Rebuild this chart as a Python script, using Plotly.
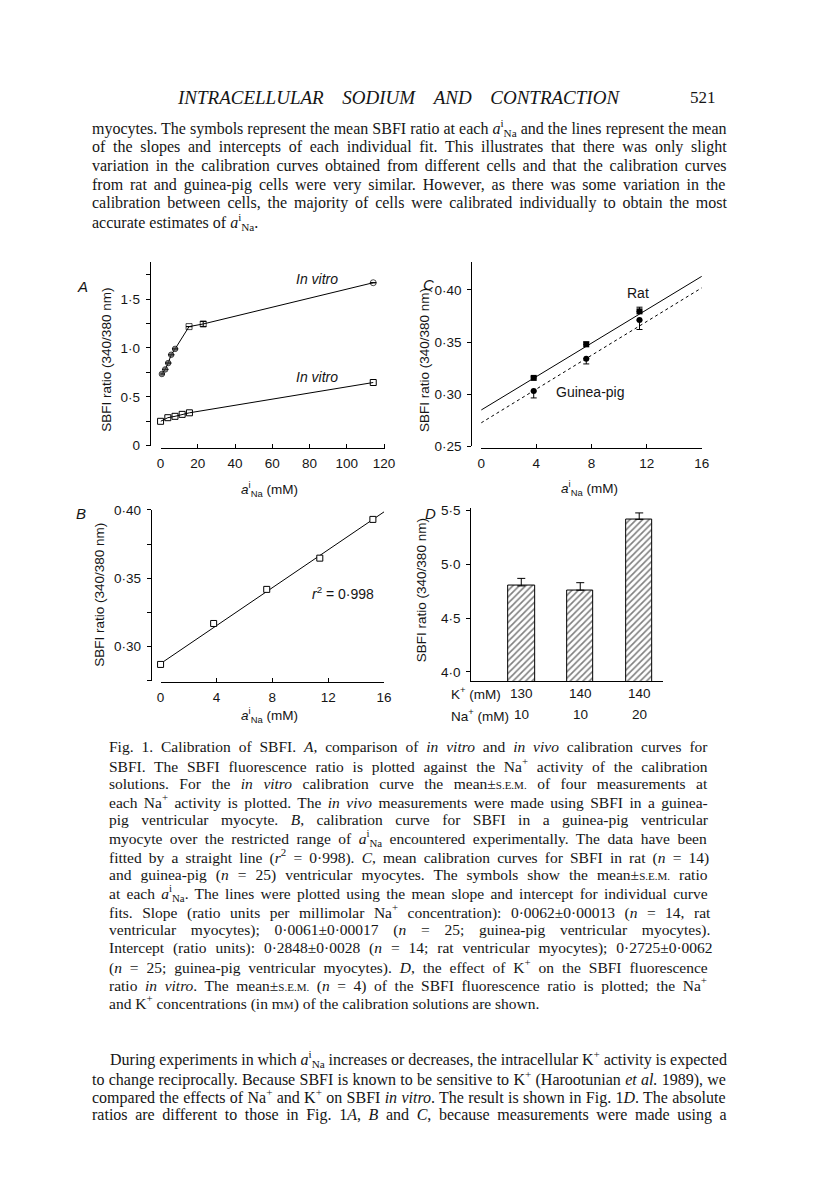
import re
import plotly.graph_objects as go

W, H = 816, 1177
def px(x): return x / W
def py(y): return 1 - y / H

SERIF = "Liberation Serif"
SANS = "Liberation Sans"
INK = "#151515"

# ---------------- data ----------------
# Panel A : calibration curves over the full range
a_hi_x = [0.7, 2.5, 4.1, 5.7, 7.8, 15.3, 22.9, 114.2]
a_hi_y = [0.733, 0.78, 0.845, 0.93, 0.99, 1.218, 1.245, 1.667]
a_hi_err = [0, 0, 0, 0, 0, 0, 0.025, 0]
a_lo_x = [0.0, 3.9, 7.75, 11.6, 15.5, 114.2]
a_lo_y = [0.249, 0.286, 0.300, 0.320, 0.336, 0.646]
a_xticks = [0, 20, 40, 60, 80, 100, 120]
a_yticks = [0, 0.25, 0.5, 0.75, 1.0, 1.25, 1.5, 1.75]
a_ylabels = ["0", "", "0·5", "", "1·0", "", "1·5", ""]

# Panel B : restricted range, straight-line fit
b_x = [0.0, 3.8, 7.6, 11.4, 15.2]
b_y = [0.2871, 0.317, 0.3419, 0.3647, 0.393]
b_fit_x = [0, 16]
b_fit_y = [0.2877, 0.3985]
b_xticks = [0, 4, 8, 12, 16]
b_yticks = [0.275, 0.30, 0.325, 0.35, 0.375, 0.40]
b_ylabels = ["", "0·30", "", "0·35", "", "0·40"]

# Panel C : rat vs guinea-pig
c_x = [3.81, 7.62, 11.48]
rat_y = [0.3156, 0.3478, 0.3794]
rat_err = [0.0015, 0.0023, 0.004]
gp_y = [0.303, 0.334, 0.371]
gp_err = [0.0066, 0.005, 0.009]
c_fit_x = [0, 16]
rat_fit = [0.2848, 0.413]
gp_fit = [0.2725, 0.402]
c_xticks = [0, 4, 8, 12, 16]
c_yticks = [0.25, 0.30, 0.35, 0.40]
c_ylabels = ["0·25", "0·30", "0·35", "0·40"]

# Panel D : effect of K+
d_k = ["130", "140", "140"]
d_na = ["10", "10", "20"]
d_cat = [k + "/" + n for k, n in zip(d_k, d_na)]
d_y = [4.80, 4.76, 5.42]
d_err = [0.07, 0.07, 0.06]
d_yticks = [4.0, 4.5, 5.0, 5.5]
d_ylabels = ["4·0", "4·5", "5·0", "5·5"]

# ---------------- page text ----------------
SC = '<span style="font-size:11px">S.E.M.</span>'
SCM = 'm<span style="font-size:11px">M</span>'
ANA = '<i>a</i><sup>i</sup><sub>Na</sub>'
header = "<i>INTRACELLULAR</i> <i>SODIUM</i> <i>AND</i> <i>CONTRACTION</i>"
body_top = [
    "myocytes. The symbols represent the mean SBFI ratio at each " + ANA + " and the lines represent the mean",
    "of the slopes and intercepts of each individual fit. This illustrates that there was only slight",
    "variation in the calibration curves obtained from different cells and that the calibration curves",
    "from rat and guinea-pig cells were very similar. However, as there was some variation in the",
    "calibration between cells, the majority of cells were calibrated individually to obtain the most",
    "accurate estimates of " + ANA + ".",
]
caption = [
    "Fig. 1. Calibration of SBFI. <i>A</i>, comparison of <i>in</i> <i>vitro</i> and <i>in</i> <i>vivo</i> calibration curves for",
    "SBFI. The SBFI fluorescence ratio is plotted against the Na<sup>+</sup> activity of the calibration",
    "solutions. For the <i>in</i> <i>vitro</i> calibration curve the mean±" + SC + " of four measurements at",
    "each Na<sup>+</sup> activity is plotted. The <i>in</i> <i>vivo</i> measurements were made using SBFI in a guinea-",
    "pig ventricular myocyte. <i>B</i>, calibration curve for SBFI in a guinea-pig ventricular",
    "myocyte over the restricted range of " + ANA + " encountered experimentally. The data have been",
    "fitted by a straight line (<i>r</i><sup>2</sup> = 0·998). <i>C</i>, mean calibration curves for SBFI in rat (<i>n</i> = 14)",
    "and guinea-pig (<i>n</i> = 25) ventricular myocytes. The symbols show the mean±" + SC + " ratio",
    "at each " + ANA + ". The lines were plotted using the mean slope and intercept for individual curve",
    "fits. Slope (ratio units per millimolar Na<sup>+</sup> concentration): 0·0062±0·00013 (<i>n</i> = 14, rat",
    "ventricular myocytes); 0·0061±0·00017 (<i>n</i> = 25; guinea-pig ventricular myocytes).",
    "Intercept (ratio units): 0·2848±0·0028 (<i>n</i> = 14; rat ventricular myocytes); 0·2725±0·0062",
    "(<i>n</i> = 25; guinea-pig ventricular myocytes). <i>D</i>, the effect of K<sup>+</sup> on the SBFI fluorescence",
    "ratio <i>in</i> <i>vitro</i>. The mean±" + SC + " (<i>n</i> = 4) of the SBFI fluorescence ratio is plotted; the Na<sup>+</sup>",
    "and K<sup>+</sup> concentrations (in " + SCM + ") of the calibration solutions are shown.",
]
body_bottom = [
    "During experiments in which " + ANA + " increases or decreases, the intracellular K<sup>+</sup> activity is expected",
    "to change reciprocally. Because SBFI is known to be sensitive to K<sup>+</sup> (Harootunian <i>et</i> <i>al.</i> 1989), we",
    "compared the effects of Na<sup>+</sup> and K<sup>+</sup> on SBFI <i>in</i> <i>vitro</i>. The result is shown in Fig. 1<i>D</i>. The absolute",
    "ratios are different to those in Fig. 1<i>A</i>, <i>B</i> and <i>C</i>, because measurements were made using a",
]

# ---------------- text width helpers (Times metrics) ----------------
ROMAN = {' ': 250, '!': 333, '"': 408, '%': 833, '&': 778, "'": 333, '(': 333, ')': 333,
         '*': 500, '+': 564, ',': 250, '-': 333, '.': 250, '/': 278, ':': 278, ';': 278,
         '=': 564, '?': 444, '[': 333, ']': 333, '±': 564, '·': 250,
         'A': 722, 'B': 667, 'C': 667, 'D': 722, 'E': 611, 'F': 556, 'G': 722, 'H': 722,
         'I': 333, 'J': 389, 'K': 722, 'L': 611, 'M': 889, 'N': 722, 'O': 722, 'P': 556,
         'Q': 722, 'R': 667, 'S': 556, 'T': 611, 'U': 722, 'V': 722, 'W': 944, 'X': 722,
         'Y': 722, 'Z': 611,
         'a': 444, 'b': 500, 'c': 444, 'd': 500, 'e': 444, 'f': 333, 'g': 500, 'h': 500,
         'i': 278, 'j': 278, 'k': 500, 'l': 278, 'm': 778, 'n': 500, 'o': 500, 'p': 500,
         'q': 500, 'r': 333, 's': 389, 't': 278, 'u': 500, 'v': 500, 'w': 722, 'x': 500,
         'y': 500, 'z': 444}
for _d in "0123456789":
    ROMAN[_d] = 500
ITALIC = dict(ROMAN)
ITALIC.update({'a': 500, 'c': 444, 'e': 444, 'f': 278, 'k': 444, 'm': 722, 'r': 389,
               'v': 444, 'w': 667, 'y': 444, 'z': 389,
               'A': 611, 'B': 611, 'C': 667, 'D': 722, 'E': 611, 'F': 611, 'I': 333,
               'K': 667, 'L': 556, 'M': 833, 'N': 667, 'O': 722, 'P': 611, 'R': 611,
               'S': 500, 'T': 556, 'U': 722, 'V': 611, 'W': 833, 'Y': 556})
TOKEN = re.compile(r'(<[^>]+>)|([^<]+)')
SPACE = re.compile(r' (?![^<]*>)')

def natural_width(s, size):
    w = 0.0
    scales = [1.0]
    ital = 0
    for tag, txt in TOKEN.findall(s):
        if tag:
            t = tag.lower()
            if t == '<i>':
                ital += 1
            elif t == '</i>':
                ital = max(0, ital - 1)
            elif t in ('<sup>', '<sub>'):
                scales.append(scales[-1] * 0.7)
            elif t in ('</sup>', '</sub>', '</span>'):
                if len(scales) > 1:
                    scales.pop()
            elif t.startswith('<span'):
                m = re.search(r'font-size:\s*([\d.]+)px', t)
                scales.append(float(m.group(1)) / size if m else scales[-1])
        else:
            tbl = ITALIC if ital else ROMAN
            for ch in txt:
                w += tbl.get(ch, 500) * scales[-1]
    return w * size / 1000.0

annotations = []

def text_line(text, x0, x1, y, size, justify=True, family=SERIF):
    n_sp = len(SPACE.findall(text))
    ws = 0.0
    if justify and n_sp:
        ws = (x1 - x0 - natural_width(text, size)) / n_sp
    body = '<span style="word-spacing:%.2fpx">%s</span>' % (ws, text) if ws else text
    annotations.append(dict(text=body, x=px(x0), y=py(y), xref="paper", yref="paper",
                            xanchor="left", yanchor="middle", showarrow=False,
                            borderpad=0, borderwidth=0, align="left",
                            font=dict(family=family, size=size, color=INK)))

def label(text, x, y, size=14, anchor="center", family=SANS, angle=0):
    annotations.append(dict(text=text, x=px(x), y=py(y),
                            xref="paper", yref="paper", xanchor=anchor, yanchor="middle",
                            showarrow=False, textangle=angle, borderpad=0, borderwidth=0,
                            font=dict(family=family, size=size, color=INK)))

# header and running text
text_line(header, 176, 617, 92, 19)
label("521", 724, 92, size=17, anchor="right", family=SERIF)
for i, ln in enumerate(body_top):
    text_line(ln, 90, 725, 123 + i * 19.0, 16, justify=(i < len(body_top) - 1))
for i, ln in enumerate(caption):
    text_line(ln, 107, 706, 749 + i * 18.55, 15.5, justify=(i < len(caption) - 1))
for i, ln in enumerate(body_bottom):
    text_line(ln, 108 if i == 0 else 90, 725, 1066 + i * 18.9, 16, justify=True)

# ---------------- figure ----------------
fig = go.Figure()
BLK = "black"

# Panel A
fig.add_trace(go.Scatter(x=a_hi_x, y=a_hi_y, mode="lines+markers", xaxis="x", yaxis="y",
                         line=dict(color=BLK, width=1), cliponaxis=False,
                         error_y=dict(type="data", array=a_hi_err, color=BLK, thickness=1, width=3),
                         marker=dict(symbol=["circle"] * 5 + ["square-open", "square-open", "circle-open"],
                                     size=[5.5] * 5 + [6, 6, 6],
                                     color=["#444"] * 5 + [BLK] * 3,
                                     line=dict(color=BLK, width=1))))
fig.add_trace(go.Scatter(x=a_lo_x, y=a_lo_y, mode="lines+markers", xaxis="x", yaxis="y",
                         line=dict(color=BLK, width=1), cliponaxis=False,
                         marker=dict(symbol="square-open", size=6, color=BLK, line=dict(width=1))))

# Panel B
fig.add_trace(go.Scatter(x=b_fit_x, y=b_fit_y, mode="lines", xaxis="x2", yaxis="y2",
                         line=dict(color=BLK, width=1)))
fig.add_trace(go.Scatter(x=b_x, y=b_y, mode="markers", xaxis="x2", yaxis="y2", cliponaxis=False,
                         marker=dict(symbol="square", size=6, color="white",
                                     line=dict(color=BLK, width=1))))

# Panel C
fig.add_trace(go.Scatter(x=c_fit_x, y=rat_fit, mode="lines", xaxis="x3", yaxis="y3",
                         line=dict(color=BLK, width=1)))
fig.add_trace(go.Scatter(x=c_fit_x, y=gp_fit, mode="lines", xaxis="x3", yaxis="y3",
                         line=dict(color=BLK, width=1, dash="3px,3px")))
fig.add_trace(go.Scatter(x=c_x, y=rat_y, mode="markers", xaxis="x3", yaxis="y3", cliponaxis=False,
                         error_y=dict(type="data", symmetric=False, array=rat_err,
                                      arrayminus=[0] * len(rat_err), color=BLK, thickness=1, width=3),
                         marker=dict(symbol="square", size=6, color=BLK)))
fig.add_trace(go.Scatter(x=c_x, y=gp_y, mode="markers", xaxis="x3", yaxis="y3", cliponaxis=False,
                         error_y=dict(type="data", symmetric=False, array=[0] * len(gp_err),
                                      arrayminus=gp_err, color=BLK, thickness=1, width=3),
                         marker=dict(symbol="circle", size=6, color=BLK)))

# Panel D
fig.add_trace(go.Bar(x=d_cat, y=d_y, xaxis="x4", yaxis="y4", width=0.455,
                     marker=dict(color="white", line=dict(color=BLK, width=1),
                                 pattern=dict(shape="/", fgcolor=BLK, bgcolor="white",
                                              size=4.5, solidity=0.35)),
                     error_y=dict(type="data", symmetric=False, array=d_err,
                                  arrayminus=[0] * len(d_err), color=BLK, thickness=1, width=4)))

TICKFONT = dict(family=SANS, size=13.5, color=INK)
def xax(dom, rng, pos, tickvals=None, show=True):
    d = dict(domain=[px(dom[0]), px(dom[1])], range=rng, anchor="free", position=py(pos),
             showline=True, linecolor=BLK, linewidth=1, showgrid=False, zeroline=False,
             tickfont=TICKFONT, fixedrange=True)
    if show:
        d.update(tickmode="array", tickvals=tickvals, ticktext=[str(v) for v in tickvals],
                 ticks="inside", ticklen=4, tickcolor=BLK, tickwidth=1, ticklabelstandoff=3)
    else:
        d.update(showticklabels=False, ticks="")
    return d

def yax(dom, rng, pos, tickvals, ticktext):
    return dict(domain=[py(dom[0]), py(dom[1])], range=rng, anchor="free", position=px(pos),
                showline=True, linecolor=BLK, linewidth=1, showgrid=False, zeroline=False,
                tickmode="array", tickvals=tickvals, ticktext=ticktext, ticks="outside",
                ticklen=4, tickcolor=BLK, tickwidth=1, tickfont=TICKFONT, ticklabelstandoff=3,
                fixedrange=True)

layout = dict(
    width=W, height=H, margin=dict(l=0, r=0, t=0, b=0), autosize=False,
    paper_bgcolor="white", plot_bgcolor="white", showlegend=False, bargap=0,
    xaxis=xax((159.3, 388.0), [0, 120.7], 446.5, a_xticks),
    yaxis=yax((444.3, 258), [0, 1.882], 148.3, a_yticks, a_ylabels),
    xaxis2=xax((159.3, 386.7), [0, 16], 683.3, b_xticks),
    yaxis2=yax((682.7, 509.3), [0.275, 0.40], 149.3, b_yticks, b_ylabels),
    xaxis3=xax((485.5, 710.0), [0, 16], 446.5, c_xticks),
    yaxis3=yax((445, 258), [0.25, 0.427], 475.5, c_yticks, c_ylabels),
    xaxis4=xax((474.3, 670.0), [-0.8667, 2.395], 683.0, show=False),
    yaxis4=yax((682.7, 507), [3.914, 5.53], 474.3, d_yticks, d_ylabels),
)

# axis titles, panel letters, in-plot labels
YT = "SBFI ratio (340/380 nm)"
label(YT, 104, 357, size=13.5, angle=-90)
label(YT, 428, 358, size=13.5, angle=-90)
label(YT, 97, 595, size=13.5, angle=-90)
label(YT, 425, 591, size=13.5, angle=-90)
XT = "<i>a</i><sup>i</sup><sub>Na</sub> (mM)"
label(XT, 270, 488, size=13.5)
label(XT, 596, 487, size=13.5)
label(XT, 270, 717, size=13.5)
for letter, (lx, ly) in zip("ACBD", [(80, 283), (432, 281), (78, 513), (434, 513)]):
    label("<i>%s</i>" % letter, lx, ly, size=15)
label("<i>In vitro</i>", 318, 276, size=14)
label("<i>In vitro</i>", 318, 375, size=14)
label("Rat", 645, 290, size=14)
label("Guinea-pig", 597, 390, size=14)
label("<i>r</i><sup>2</sup> = 0·998", 345, 594, size=14)
label("K<sup>+</sup> (mM)", 455, 695, size=13.5, anchor="left")
label("Na<sup>+</sup> (mM)", 455, 717, size=13.5, anchor="left")
for cat, k, n in zip(d_cat, d_k, d_na):
    annotations.append(dict(text=k, x=cat, y=py(695), xref="x4", yref="paper", showarrow=False,
                            xanchor="center", yanchor="middle",
                            font=dict(family=SANS, size=13.5, color=INK)))
    annotations.append(dict(text=n, x=cat, y=py(717), xref="x4", yref="paper", showarrow=False,
                            xanchor="center", yanchor="middle",
                            font=dict(family=SANS, size=13.5, color=INK)))

layout["annotations"] = annotations
fig.update_layout(**layout)
fig.write_html("out.html", config={"displayModeBar": False},
               post_script="document.body.style.margin='0px';")
